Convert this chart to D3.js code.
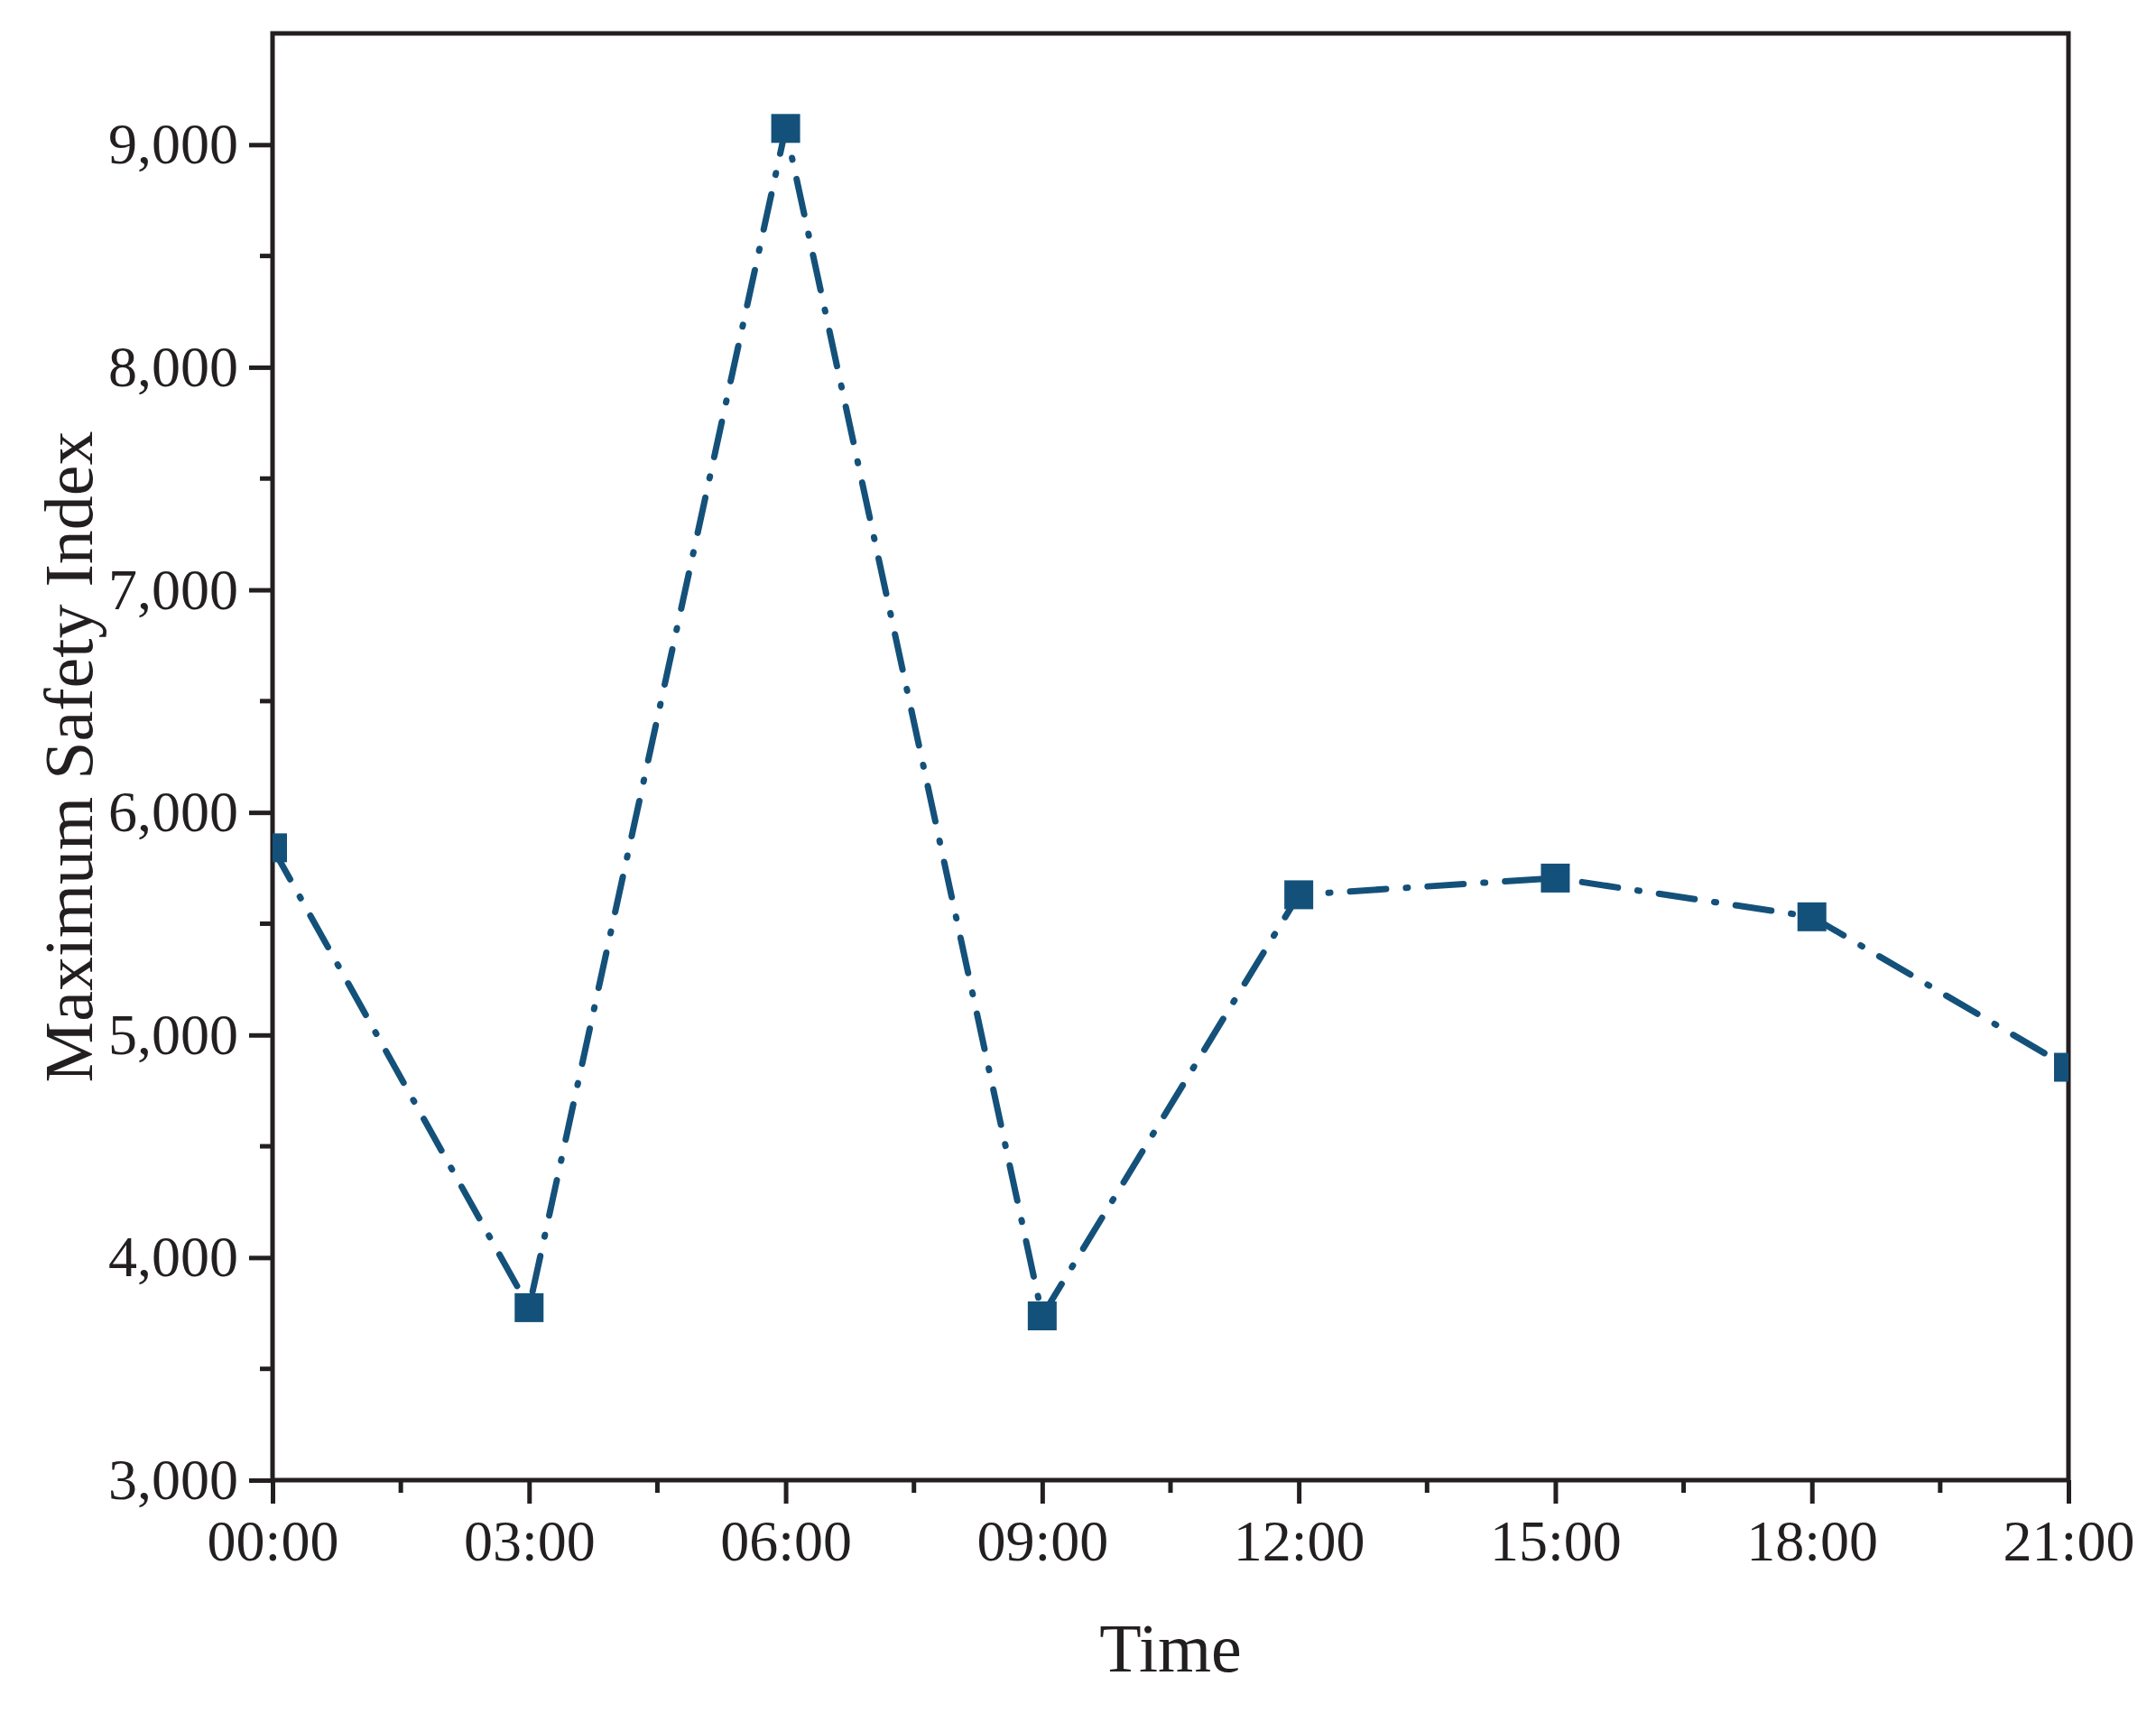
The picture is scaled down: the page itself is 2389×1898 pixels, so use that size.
<!DOCTYPE html>
<html><head><meta charset="utf-8">
<script src="https://cdn.jsdelivr.net/npm/d3@7"></script>
<style>body{margin:0;background:#fff}text{font-family:"Liberation Serif","Times New Roman",serif;fill:#231f20}</style>
</head><body><svg id="chart" width="2389" height="1898"></svg>
<script>
const hours = [0, 3, 6, 9, 12, 15, 18, 21]
const tickLabels = ['00:00', '03:00', '06:00', '09:00', '12:00', '15:00', '18:00', '21:00']
const safetyIndex = [5841, 3775, 9073, 3738, 5630, 5705, 5531, 4855]
const yTicks = [3000, 4000, 5000, 6000, 7000, 8000, 9000]

const MARGIN = {top: 37, right: 97, bottom: 258, left: 302}
const W = 2389, H = 1898
const w = W - MARGIN.left - MARGIN.right
const h = H - MARGIN.top - MARGIN.bottom
const ink = '#231f20', color = '#14517a'

let svg = d3.select('#chart')
let g = svg.append('g').attr('transform', 'translate(' + MARGIN.left + ',' + MARGIN.top + ')')

let x = d3.scaleLinear().domain([0, 21]).range([0, w])
let y = d3.scaleLinear().domain([3000, 9500]).range([h, 0])

svg.append('defs').append('clipPath').attr('id', 'clip')
  .append('rect').attr('width', w).attr('height', h)

// minor ticks
g.selectAll('.xminor').data(d3.range(1.5, 21, 3)).enter().append('line')
  .attr('x1', d => x(d)).attr('x2', d => x(d)).attr('y1', h).attr('y2', h + 14)
  .attr('stroke', ink).attr('stroke-width', 5)
g.selectAll('.yminor').data(d3.range(3500, 9500, 1000)).enter().append('line')
  .attr('y1', d => y(d)).attr('y2', d => y(d)).attr('x1', 0).attr('x2', -14)
  .attr('stroke', ink).attr('stroke-width', 5)

let xAxis = g.append('g').attr('transform', 'translate(0,' + h + ')')
  .call(d3.axisBottom(x).tickValues(hours).tickFormat((d, i) => tickLabels[i]).tickSize(26).tickPadding(18))
let yAxis = g.append('g')
  .call(d3.axisLeft(y).tickValues(yTicks).tickSize(26).tickPadding(12))
;[xAxis, yAxis].forEach(a => {
  a.selectAll('path').remove()
  a.selectAll('line').attr('stroke', ink).attr('stroke-width', 5)
  a.selectAll('text').style('font-size', '64px').attr('fill', ink)
})

// frame
g.append('rect').attr('width', w).attr('height', h)
  .attr('fill', 'none').attr('stroke', ink).attr('stroke-width', 5)

let plot = g.append('g').attr('clip-path', 'url(#clip)')
plot.append('path').datum(hours)
  .attr('d', d3.line().x(d => x(d)).y((d, i) => y(safetyIndex[i])))
  .attr('fill', 'none').attr('stroke', color).attr('stroke-width', 7)
  .attr('stroke-linecap', 'round').attr('stroke-dasharray', '40,22,2,22')
plot.selectAll('.pt').data(hours).enter().append('rect')
  .attr('x', d => x(d) - 16).attr('y', (d, i) => y(safetyIndex[i]) - 16)
  .attr('width', 32).attr('height', 32).attr('fill', color)

g.append('text').attr('x', w / 2).attr('y', h + 212).attr('text-anchor', 'middle')
  .style('font-size', '76px').text('Time')
g.append('text').attr('transform', 'translate(-200,' + (h / 2) + ') rotate(-90)')
  .attr('text-anchor', 'middle').style('font-size', '76px').text('Maximum Safety Index')
</script></body></html>
